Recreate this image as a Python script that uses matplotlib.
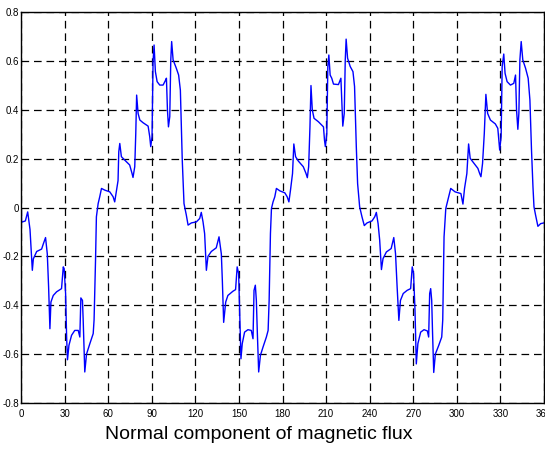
import numpy as np
import matplotlib.pyplot as plt

plt.rcParams['lines.scale_dashes'] = False

# angle (deg) and normal flux values
angle = [
    0, 0.4, 3, 4.6, 6.2, 7.8, 8.5, 10.8, 14.2, 15.3, 16.9, 18.1, 19.0, 19.9,
    20.6, 22.2, 24.5, 27.9, 29.1, 29.7, 30.7, 31.4, 32.0, 33.0, 34.8, 37.0,
    39.4, 40.5, 41.2, 42.3, 42.8, 43.9, 45.1, 47.4, 49.7, 50.3, 51.3, 51.9,
    53.1, 54.2, 55.4, 57.7, 61.1, 63.4, 64.5, 66.1, 66.8, 67.3, 68.0, 69.1,
    71.4, 74.8, 76.4, 77.1, 78.3, 79.0, 79.6, 80.6, 81.8, 84.0, 87.5, 88.6,
    89.3, 90.2, 90.9, 91.6, 92.5, 93.7, 95.5, 97.8, 99.6, 100.1, 100.8, 101.5,
    102.4, 103.1, 103.7, 104.7, 106.9, 108.5, 109.7, 111.0, 112.2, 113.8,
    115.0, 117.3, 120.7, 123.0, 124.1, 125.3, 126.4, 127.6, 128.7, 131.0,
    134.4, 136.3, 137.9, 138.6, 139.5, 140.9, 142.4, 145.8, 147.7, 148.8,
    149.8, 150.5, 151.4, 152.3, 153.9, 156.2, 158.5, 159.7, 160.4, 161.3,
    162.0, 162.7, 163.6, 164.8, 166.6, 168.9, 170.1, 170.8, 171.7, 172.4,
    173.5, 174.7, 175.8, 178.2, 181.6, 183.2, 184.4, 185.5, 186.9, 187.8,
    189.0, 190.9, 194.3, 196.2, 197.1, 198.0, 198.9, 199.6, 200.5, 201.7,
    204.7, 208.2, 208.9, 209.5, 210.5, 211.2, 211.9, 212.8, 213.9, 215.1,
    218.5, 220.2, 220.8, 221.5, 222.5, 223.2, 223.8, 224.8, 226.6, 228.5,
    229.6, 230.8, 231.7, 233.1, 234.7, 236.3, 238.2, 241.6, 243.5, 244.6,
    245.8, 246.9, 248.1, 249.2, 251.5, 254.8, 256.6, 257.8, 258.9, 260.1,
    261.2, 263.1, 265.8, 268.2, 269.3, 270.2, 271.2, 272.1, 273.2, 275.1,
    277.4, 279.7, 280.6, 281.3, 282.0, 282.7, 283.3, 284.1, 285.2, 287.5,
    289.6, 290.3, 291.2, 292.4, 293.8, 295.8, 298.8, 302.8, 304.2, 305.3,
    306.9, 308.1, 309.2, 311.5, 314.5, 315.7, 316.6, 317.7, 318.9, 320.0,
    321.2, 323.1, 326.5, 328.2, 328.9, 329.5, 330.5, 331.2, 332.3, 333.2,
    334.6, 336.9, 339.2, 340.4, 341.1, 342.0, 342.7, 343.4, 344.3, 345.4,
    347.3, 349.1, 350.3, 351.4, 352.4, 353.1, 354.2, 355.8, 357.7, 360,
]
flux = [
    0.07, -0.06, -0.055, -0.018, -0.09, -0.257, -0.21, -0.18, -0.17, -0.15,
    -0.123, -0.19, -0.325, -0.496, -0.387, -0.36, -0.345, -0.332, -0.243,
    -0.25, -0.352, -0.53, -0.623, -0.564, -0.523, -0.503, -0.503, -0.53,
    -0.37, -0.38, -0.46, -0.673, -0.6, -0.557, -0.516, -0.46, -0.216, -0.038,
    0.016, 0.044, 0.078, 0.071, 0.064, 0.044, 0.023, 0.085, 0.11, 0.228,
    0.262, 0.208, 0.194, 0.174, 0.14, 0.123, 0.167, 0.303, 0.46, 0.385,
    0.358, 0.347, 0.333, 0.29, 0.249, 0.29, 0.597, 0.665, 0.556, 0.515,
    0.501, 0.501, 0.522, 0.529, 0.4, 0.33, 0.372, 0.604, 0.679, 0.604, 0.57,
    0.542, 0.48, 0.194, 0.016, -0.031, -0.072, -0.063, -0.059, -0.045,
    -0.02, -0.059, -0.107, -0.257, -0.2, -0.18, -0.165, -0.12, -0.19, -0.3,
    -0.47, -0.387, -0.36, -0.343, -0.336, -0.243, -0.27, -0.42, -0.619,
    -0.557, -0.51, -0.5, -0.503, -0.537, -0.339, -0.318, -0.38, -0.516,
    -0.673, -0.605, -0.571, -0.53, -0.503, -0.38, -0.107, -0.004, 0.023,
    0.044, 0.078, 0.068, 0.06, 0.044, 0.023, 0.071, 0.139, 0.26, 0.208,
    0.19, 0.167, 0.139, 0.122, 0.167, 0.33, 0.499, 0.4, 0.365, 0.351, 0.33,
    0.276, 0.249, 0.303, 0.576, 0.624, 0.542, 0.529, 0.505, 0.503, 0.529,
    0.44, 0.333, 0.385, 0.604, 0.689, 0.611, 0.577, 0.556, 0.495, 0.249,
    0.098, 0.003, -0.038, -0.074, -0.063, -0.055, -0.038, -0.02, -0.066,
    -0.134, -0.254, -0.209, -0.182, -0.168, -0.123, -0.189, -0.325, -0.462,
    -0.38, -0.352, -0.339, -0.332, -0.243, -0.27, -0.42, -0.64, -0.557,
    -0.51, -0.5, -0.505, -0.53, -0.352, -0.332, -0.38, -0.516, -0.675, -0.6,
    -0.565, -0.53, -0.46, -0.12, -0.004, 0.03, 0.078, 0.064, 0.057, 0.014,
    0.078, 0.139, 0.26, 0.201, 0.183, 0.16, 0.139, 0.126, 0.18, 0.303,
    0.463, 0.385, 0.358, 0.342, 0.324, 0.276, 0.235, 0.29, 0.576, 0.628,
    0.549, 0.515, 0.501, 0.508, 0.542, 0.4, 0.32, 0.385, 0.604, 0.679,
    0.604, 0.57, 0.529, 0.44, 0.235, 0.085, 0.003, -0.031, -0.077, -0.066,
    -0.063,
]

xticks = np.arange(0, 361, 30)
yticks = np.round(np.arange(-0.8, 0.81, 0.2), 1)

fig = plt.figure(figsize=(5.45, 4.49), dpi=100)
ax = fig.add_axes([21 / 545, 1 - 403 / 449, 523 / 545, 391 / 449])

ax.plot(angle, flux, color='#0000ff', linewidth=1.0)

ax.set_xlim(0, 360)
ax.set_ylim(-0.8, 0.8)
ax.set_xticks(xticks)
ax.set_yticks(yticks)
ax.set_xticklabels([str(t) for t in xticks])
ax.set_yticklabels(['0' if t == 0 else f'{t:g}' for t in yticks])
ax.tick_params(direction='in', length=3, width=0.6, labelsize=7)
ax.tick_params(axis='x', pad=4.5)
ax.tick_params(axis='y', pad=1.5)
for lab in ax.get_xticklabels() + ax.get_yticklabels():
    lab.set_family(['Liberation Sans Narrow', 'Liberation Sans', 'DejaVu Sans'])

ax.grid(True, color='black', linestyle=(0, (5.5, 3.5)), linewidth=0.9)
for s in ax.spines.values():
    s.set_linewidth(1.0)
    s.set_color('black')

fig.text(0.474, 0.022, 'Normal component of magnetic flux', ha='center', va='baseline',
         fontsize=14, family=['Liberation Sans', 'DejaVu Sans'])

fig.savefig('out.png', dpi=100)
